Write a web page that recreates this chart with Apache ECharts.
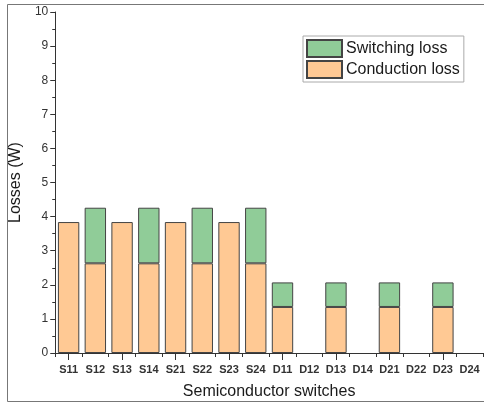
<!DOCTYPE html>
<html><head><meta charset="utf-8">
<script src="https://cdn.jsdelivr.net/npm/echarts@6/dist/echarts.min.js"></script>
<style>html,body{margin:0;padding:0;background:#fff}#c{width:484px;height:405px}</style>
</head><body><div id="c"></div>
<script>
const categories = ['S11','S12','S13','S14','S21','S22','S23','S24','D11','D12','D13','D14','D21','D22','D23','D24'];
const conductionLoss = [3.84,2.63,3.84,2.63,3.84,2.63,3.84,2.63,1.35,0,1.35,0,1.35,0,1.35,0];
const switchingLoss  = [0,1.63,0,1.63,0,1.63,0,1.63,0.72,0,0.72,0,0.72,0,0.72,0];
const yTicks = [0,1,2,3,4,5,6,7,8,9,10];

// zero-height segments are not drawn in the reference
const toBar = arr => arr.map(v => v === 0 ? '-' : v);

const chart = echarts.init(document.getElementById('c'), null, {renderer:'canvas'});
const font = 'Liberation Sans, Arial, sans-serif';
const axisColor = '#333';
chart.setOption({
  animation:false,
  textStyle:{fontFamily:font},
  graphic:[{type:'rect',shape:{x:7.5,y:4.5,width:480,height:397},style:{fill:'none',stroke:'#777',lineWidth:1},silent:true,z:-1}],
  grid:{left:45,right:1,top:12,bottom:42},
  legend:{
    orient:'vertical', left:303, top:36, padding:[3,4,3,3],
    itemWidth:35, itemHeight:17, itemGap:2, icon:'rect',
    borderColor:'#aaa', borderWidth:1,
    data:['Switching loss','Conduction loss'],
    textStyle:{fontSize:16,color:'#1a1a1a',fontFamily:font, padding:[0,0,0,-1]}
  },
  xAxis:[{
    type:'category', data:categories,
    name:'Semiconductor switches', nameLocation:'middle', nameGap:31,
    nameTextStyle:{fontSize:16,color:'#1a1a1a',fontFamily:font},
    axisLine:{lineStyle:{color:axisColor,width:1}},
    axisTick:{show:true,length:4,inside:false,lineStyle:{color:axisColor}},
    axisLabel:{fontSize:11,fontWeight:'bold',color:'#333',margin:11,interval:0,fontFamily:font},
    splitLine:{show:false}
  },{
    type:'category', data:categories, position:'bottom',
    axisLine:{show:false},
    axisTick:{show:true,alignWithLabel:true,length:7,lineStyle:{color:axisColor}},
    axisLabel:{show:false}, splitLine:{show:false}
  }],
  yAxis:{
    type:'value', min:yTicks[0], max:yTicks[yTicks.length-1], interval:1,
    name:'Losses (W)', nameLocation:'middle', nameGap:24,
    nameTextStyle:{fontSize:16,color:'#1a1a1a',fontFamily:font},
    axisLine:{show:true,lineStyle:{color:axisColor,width:1}},
    axisTick:{show:true,length:5,lineStyle:{color:axisColor}},
    minorTick:{show:true,splitNumber:2,length:3,lineStyle:{color:axisColor}},
    axisLabel:{fontSize:12,color:'#333',margin:7,fontFamily:font},
    splitLine:{show:false}
  },
  series:[{
    name:'Conduction loss', type:'bar', stack:'a', data:toBar(conductionLoss),
    barCategoryGap:'20%',
    itemStyle:{color:'#FFC994',borderColor:'#444',borderWidth:1}
  },{
    name:'Switching loss', type:'bar', stack:'a', data:toBar(switchingLoss),
    barCategoryGap:'20%',
    itemStyle:{color:'#90CC98',borderColor:'#444',borderWidth:1}
  }]
});
</script></body></html>
